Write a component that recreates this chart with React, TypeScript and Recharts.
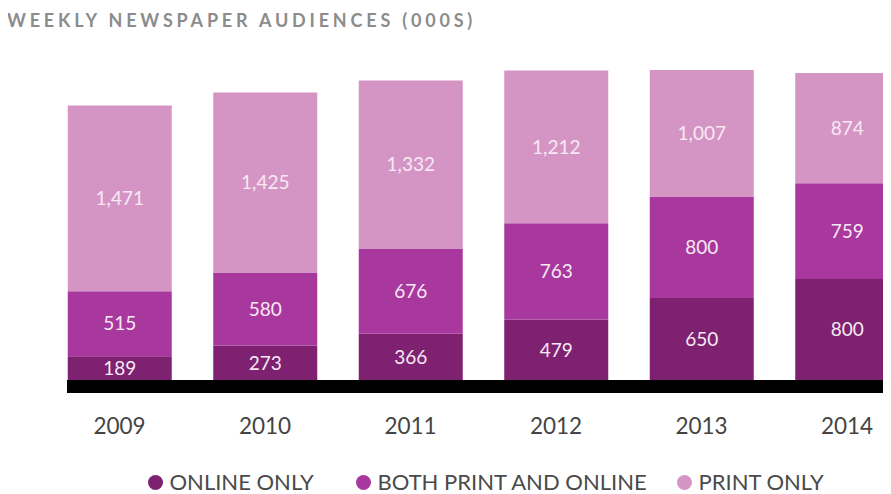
import React from "react";
import { BarChart, Bar, XAxis, YAxis, LabelList, Legend } from "recharts";

const years = ["2009", "2010", "2011", "2012", "2013", "2014"];
const onlineOnly = [189, 273, 366, 479, 650, 800];
const bothPrintOnline = [515, 580, 676, 763, 800, 759];
const printOnly = [1471, 1425, 1332, 1212, 1007, 874];

const seriesNames = ["ONLINE ONLY", "BOTH PRINT AND ONLINE", "PRINT ONLY"];
const colors = ["#7d2170", "#a8389e", "#d495c5"];
const legendItemWidths = [208, 321, 200];

const data = years.map((y, i) => ({
  year: y,
  online: onlineOnly[i],
  both: bothPrintOnline[i],
  print: printOnly[i],
}));

const FONT = "Lato, 'Noto Sans', sans-serif";
const fmt = (v: any) => Number(v).toLocaleString("en-US");

const LegendContent = () => (
  <div
    style={{
      display: "flex",
      alignItems: "center",
      height: 41,
      paddingTop: 17,
      boxSizing: "border-box",
      paddingLeft: 147.5,
      fontFamily: FONT,
      fontSize: 22,
      lineHeight: "24px",
      fontWeight: 400,
      color: "#4a4a4a",
      whiteSpace: "nowrap",
    }}
  >
    {seriesNames.map((n, i) => (
      <div key={n} style={{ display: "flex", alignItems: "center", width: legendItemWidths[i], height: 24 }}>
        <svg width={15} height={15} style={{ marginRight: 7 }}>
          <circle cx={7.5} cy={7.5} r={7.5} fill={colors[i]} />
        </svg>
        <span>{n}</span>
      </div>
    ))}
  </div>
);

export default function App() {
  return (
    <div
      style={{
        position: "relative",
        width: 891,
        height: 494,
        overflow: "hidden",
        marginLeft: -8,
        marginTop: -8,
        background: "#fff",
      }}
    >
      <div
        style={{
          position: "absolute",
          left: 7,
          top: 9,
          fontFamily: FONT,
          fontSize: 18,
          fontWeight: 700,
          letterSpacing: 3.8,
          color: "#8c8c8c",
          whiteSpace: "nowrap",
          zIndex: 2,
        }}
      >
        WEEKLY NEWSPAPER AUDIENCES (000S)
      </div>
      <BarChart
        width={930}
        height={494}
        data={data}
        margin={{ top: 52, right: 10.25, bottom: 0, left: 67 }}
      >
        <XAxis
          dataKey="year"
          height={66.5}
          padding={{ left: -20.25, right: 0 }}
          axisLine={{ stroke: "#000", strokeWidth: 13 }}
          tickLine={false}
          tickMargin={26}
          tick={{ fill: "#444", fontSize: 22.5, fontFamily: FONT, fontWeight: 400 }}
          interval={0}
        />
        <YAxis hide domain={[-51.5, 2600]} />
        <Legend verticalAlign="bottom" height={41} content={<LegendContent />} wrapperStyle={{ left: 0, width: 891 }} />
        <Bar dataKey="online" stackId="a" fill={colors[0]} barSize={104} isAnimationActive={false}>
          <LabelList dataKey="online" position="center" formatter={fmt} fill="#f8e9f3" fontSize={19} fontFamily={FONT} />
        </Bar>
        <Bar dataKey="both" stackId="a" fill={colors[1]} barSize={104} isAnimationActive={false}>
          <LabelList dataKey="both" position="center" formatter={fmt} fill="#f8e9f3" fontSize={19} fontFamily={FONT} />
        </Bar>
        <Bar dataKey="print" stackId="a" fill={colors[2]} barSize={104} isAnimationActive={false}>
          <LabelList dataKey="print" position="center" formatter={fmt} fill="#f8e9f3" fontSize={19} fontFamily={FONT} />
        </Bar>
      </BarChart>
    </div>
  );
}
